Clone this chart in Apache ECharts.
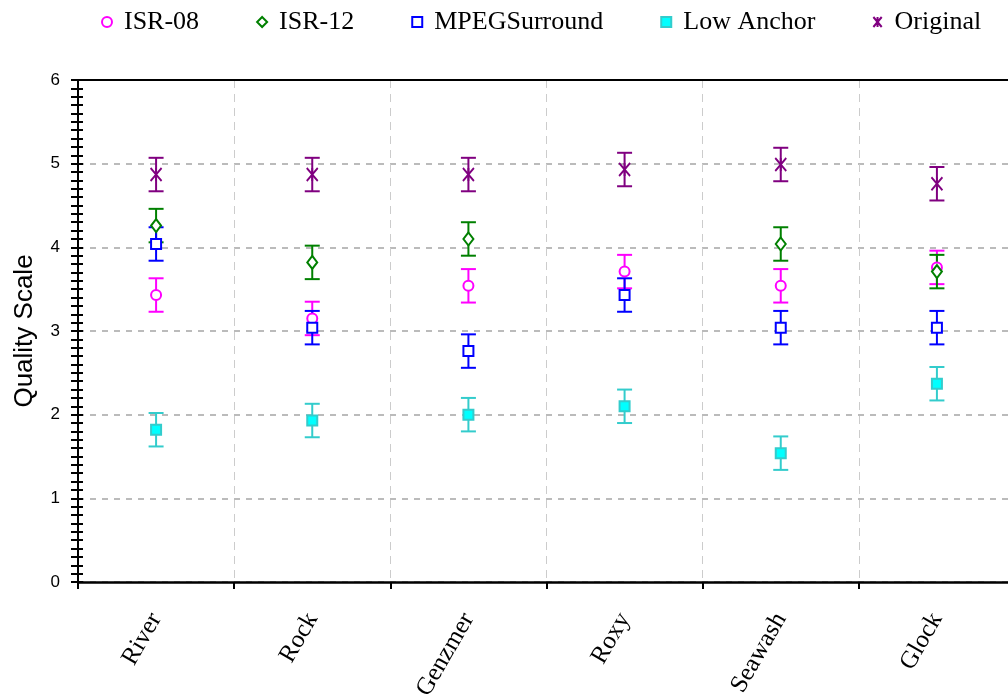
<!DOCTYPE html>
<html>
<head>
<meta charset="utf-8">
<script src="https://cdn.jsdelivr.net/npm/echarts@6/dist/echarts.min.js"></script>
<style>html,body{margin:0;padding:0;background:#fff}#c{width:1008px;height:696px}</style>
</head>
<body>
<div id="c"></div>
<script>
var categories = ['River', 'Rock', 'Genzmer', 'Roxy', 'Seawash', 'Glock'];
var yTicks = [0, 1, 2, 3, 4, 5, 6];
var seriesNames = ['ISR-08', 'ISR-12', 'MPEGSurround', 'Low Anchor', 'Original'];
var isr08 = [3.43, 3.15, 3.54, 3.71, 3.54, 3.76];
var isr12 = [4.26, 3.82, 4.10, null, 4.04, 3.71];
var mpeg = [4.04, 3.04, 2.76, 3.43, 3.04, 3.04];
var lowAnchor = [1.82, 1.93, 2.00, 2.10, 1.54, 2.37];
var original = [4.87, 4.87, 4.87, 4.93, 4.99, 4.76];
var ciIsr08 = [0.20, 0.20, 0.20, 0.20, 0.20, 0.20];
var ciIsr12 = [0.20, 0.20, 0.20, 0.20, 0.20, 0.20];
var ciMpeg = [0.20, 0.20, 0.20, 0.20, 0.20, 0.20];
var ciLow = [0.20, 0.20, 0.20, 0.20, 0.20, 0.20];
var ciOriginal = [0.20, 0.20, 0.20, 0.20, 0.20, 0.20];

var values = [isr08, isr12, mpeg, lowAnchor, original];
var cis = [ciIsr08, ciIsr12, ciMpeg, ciLow, ciOriginal];
var styles = [
  {bar: '#ff00ff', symbol: 'circle', size: 10, fill: '#ffffff', border: '#ff00ff'},
  {bar: '#008000', symbol: 'diamond', size: [10, 13], fill: '#ffffff', border: '#008000'},
  {bar: '#0000ff', symbol: 'rect', size: 10, fill: '#ffffff', border: '#0000ff'},
  {bar: '#33cccc', symbol: 'rect', size: 10, fill: '#00ffff', border: '#33cccc'},
  {bar: '#800080', symbol: 'path://M0,0L10,12M10,0L0,12M5,0L5,12', size: [11, 13], fill: 'rgba(0,0,0,0)', border: '#800080'}
];

var series = [];
values.forEach(function (vals, s) {
  var st = styles[s];
  var barData = [];
  var ptData = [];
  vals.forEach(function (v, i) {
    if (v === null) return;
    barData.push([i, v - cis[s][i], v + cis[s][i]]);
    ptData.push([i, v]);
  });
  series.push({
    type: 'custom',
    name: seriesNames[s] + ' CI',
    silent: true,
    data: barData,
    renderItem: function (params, api) {
      var x = api.value(0);
      var lo = api.coord([x, api.value(1)]);
      var hi = api.coord([x, api.value(2)]);
      var hw = 7.5;
      var style = {stroke: st.bar, lineWidth: 2, fill: null};
      return {
        type: 'group',
        children: [
          {type: 'line', shape: {x1: lo[0], y1: lo[1], x2: hi[0], y2: hi[1]}, style: style},
          {type: 'line', shape: {x1: lo[0] - hw, y1: lo[1], x2: lo[0] + hw, y2: lo[1]}, style: style},
          {type: 'line', shape: {x1: hi[0] - hw, y1: hi[1], x2: hi[0] + hw, y2: hi[1]}, style: style}
        ]
      };
    }
  });
  series.push({
    type: 'scatter',
    name: seriesNames[s],
    data: ptData,
    symbol: st.symbol,
    symbolSize: st.size,
    itemStyle: {color: st.fill, borderColor: st.border, borderWidth: 2, opacity: 1},
    emphasis: {disabled: true}
  });
});

var chart = echarts.init(document.getElementById('c'), null, {renderer: 'canvas'});
chart.setOption({
  animation: false,
  backgroundColor: '#ffffff',
  legend: {
    data: seriesNames,
    left: 96,
    top: 4,
    itemGap: 57,
    itemWidth: 10,
    itemHeight: 10,
    textStyle: {fontFamily: 'Liberation Serif', fontSize: 26, color: '#000', padding: [0, 0, 0, 7]}
  },
  grid: {left: 78, top: 80, right: -7, bottom: 114, outerBoundsMode: 'none', containLabel: false},
  xAxis: [{
    type: 'category',
    data: categories,
    boundaryGap: true,
    axisLine: {onZero: false, lineStyle: {color: '#000', width: 2.5}},
    axisTick: {show: true, length: 7, lineStyle: {color: '#000', width: 2}},
    splitLine: {show: true, lineStyle: {color: '#cccccc', width: 1, type: [8, 6]}},
    axisLabel: {
      rotate: 60, margin: 33, interval: 0,
      fontFamily: 'Liberation Serif', fontSize: 25, color: '#000'
    }
  }, {
    type: 'category',
    data: categories,
    position: 'top',
    z: 5,
    axisLine: {show: true, onZero: false, lineStyle: {color: '#000', width: 2}},
    axisTick: {show: false},
    axisLabel: {show: false},
    splitLine: {show: false}
  }],
  yAxis: [{
    type: 'value',
    min: yTicks[0], max: yTicks[yTicks.length - 1], interval: 1,
    name: 'Quality Scale',
    nameLocation: 'middle',
    nameGap: 40,
    nameTextStyle: {fontFamily: 'Liberation Sans', fontSize: 26, color: '#000'},
    axisLine: {show: true, onZero: false, lineStyle: {color: '#000', width: 2}},
    axisTick: {show: true, length: 7, lineStyle: {color: '#000', width: 2}},
    minorTick: {show: true, splitNumber: 10, length: 7, lineStyle: {color: '#000', width: 2}},
    splitLine: {show: true, lineStyle: {color: '#bbbbbb', width: 2, type: [6, 6]}},
    axisLabel: {margin: 18, fontFamily: 'Liberation Sans', fontSize: 17, color: '#000'}
  }, {
    type: 'value',
    position: 'left',
    min: yTicks[0], max: yTicks[yTicks.length - 1], interval: 1,
    axisLine: {show: false, onZero: false},
    axisLabel: {show: false},
    splitLine: {show: false},
    axisTick: {show: true, inside: true, length: 5, lineStyle: {color: '#000', width: 2}},
    minorTick: {show: true, splitNumber: 10, length: 5, lineStyle: {color: '#000', width: 2}}
  }],
  series: series
});
</script>
</body>
</html>
